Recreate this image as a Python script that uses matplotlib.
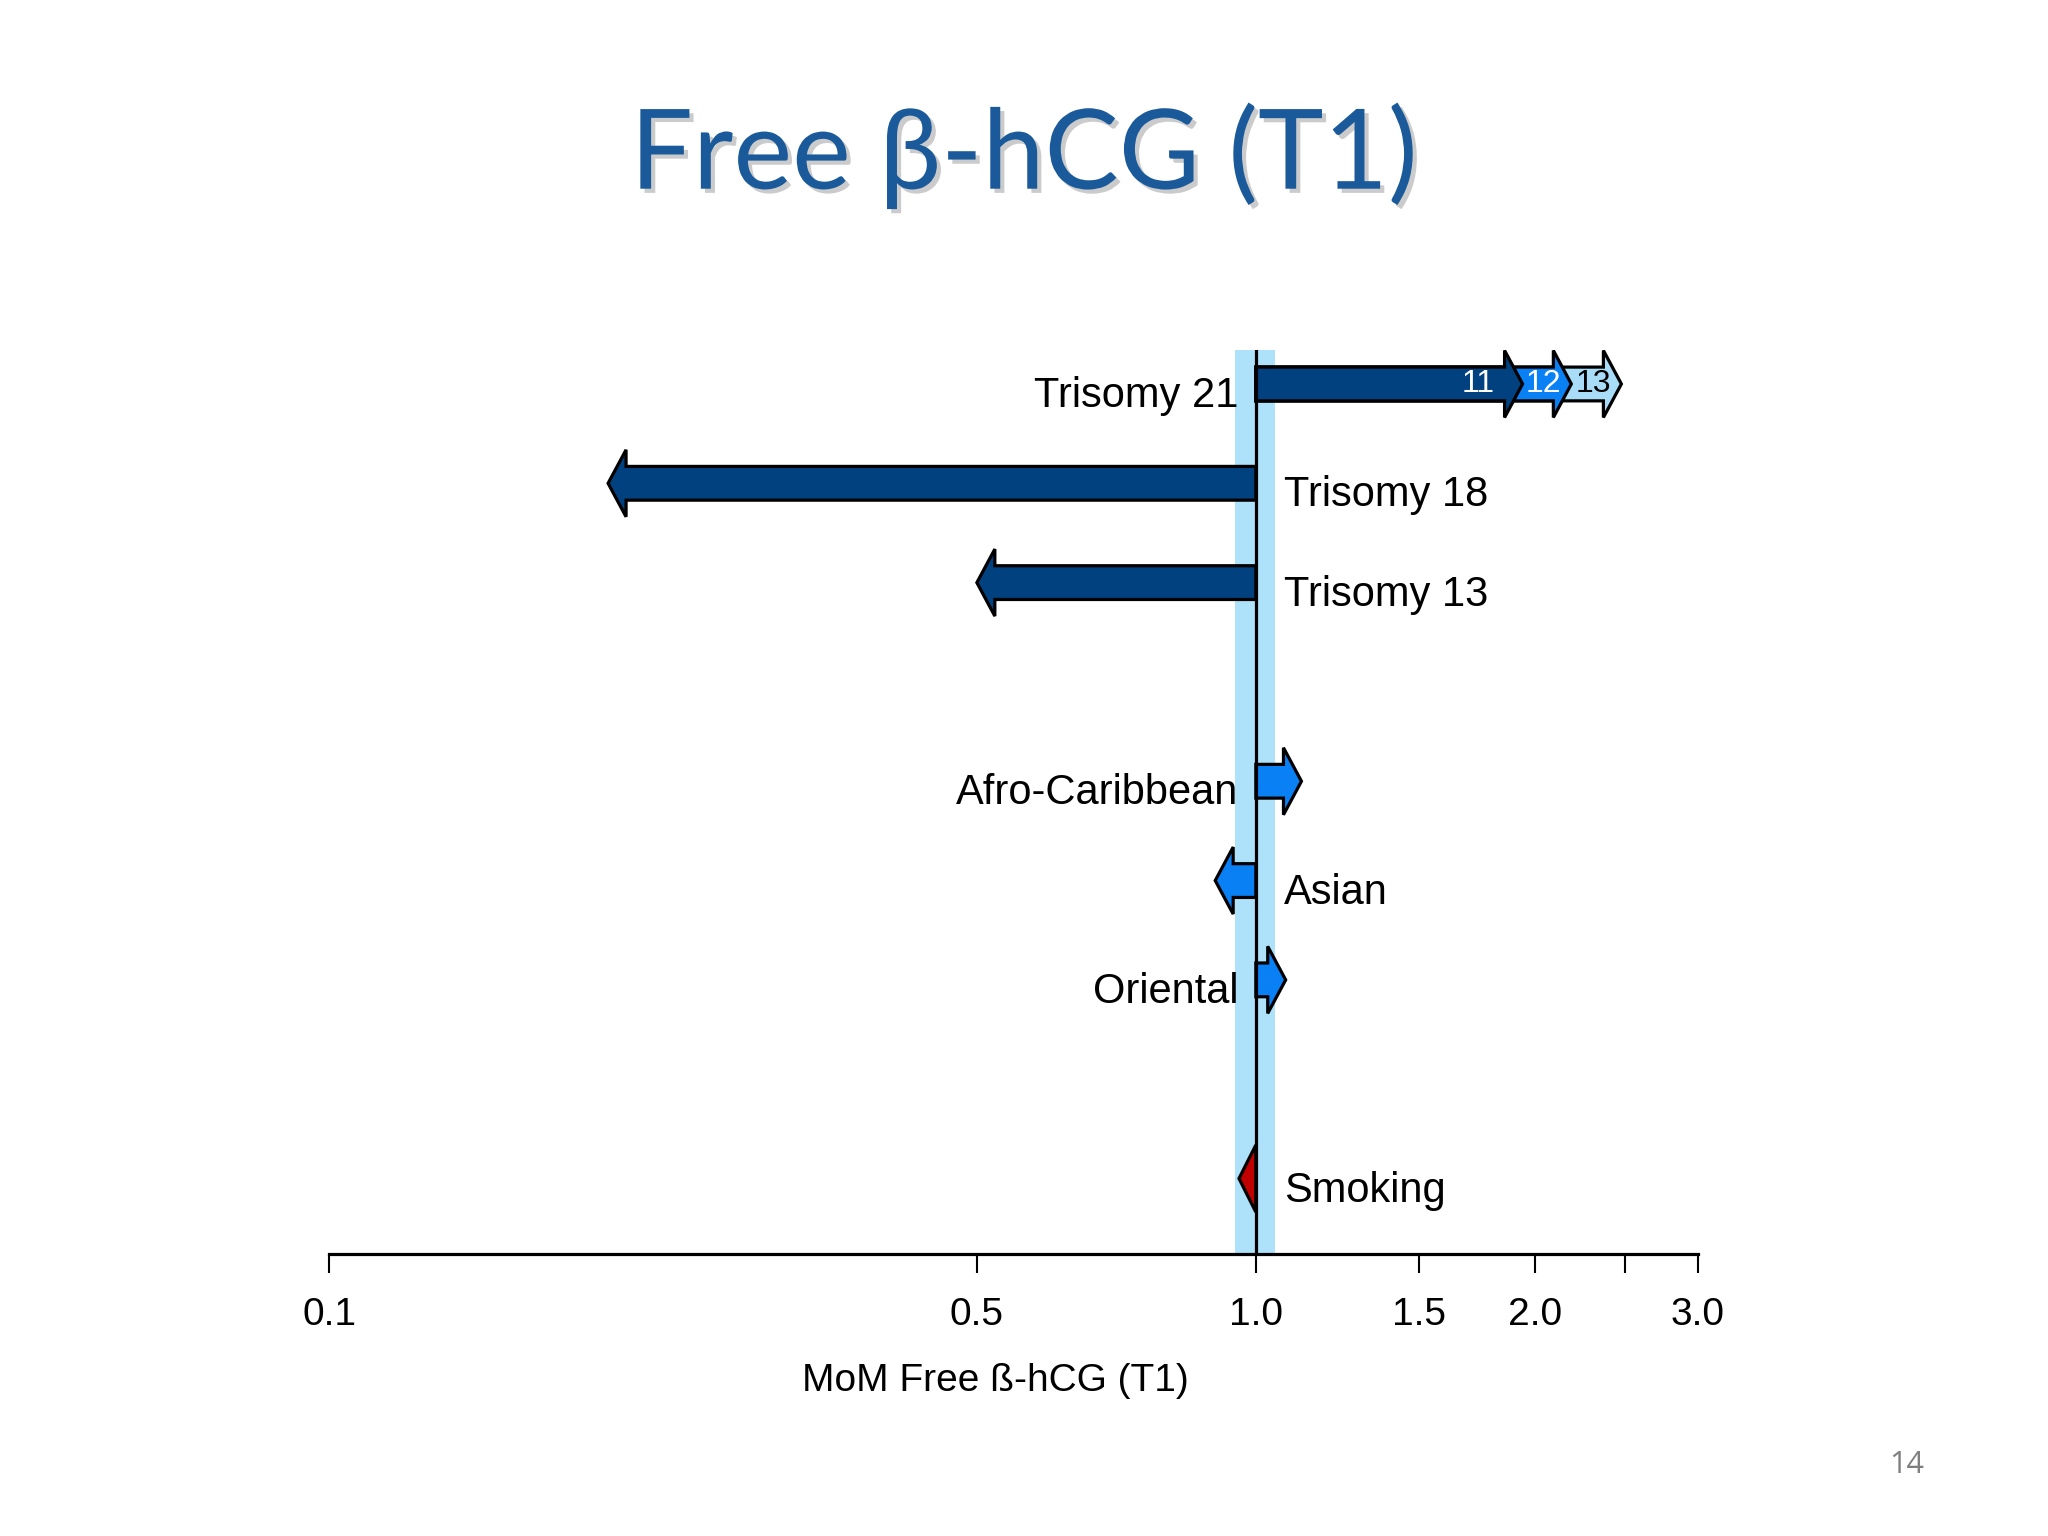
import numpy as np
import matplotlib
matplotlib.use("Agg")
import matplotlib.pyplot as plt
from matplotlib.patches import Polygon
import matplotlib.patheffects as pe

# ---------------- data ----------------
categories = ["Trisomy 21", "Trisomy 18", "Trisomy 13",
              "Afro-Caribbean", "Asian", "Oriental", "Smoking"]
rows = [0, 1, 2, 4, 5, 6, 8]
values = [1.94, 0.20, 0.50, 1.12, 0.904, 1.077, 0.959]
label_side = ["left", "right", "right", "left", "right", "left", "right"]
arrow_colors = ["#02417F", "#02417F", "#02417F", "#0A80F5", "#0A80F5", "#0A80F5", "#C00000"]

# Trisomy 21 by gestational week
t21_weeks = ["13", "12", "11"]
t21_values = [2.48, 2.19, 1.94]
t21_colors = ["#A9DDF7", "#0A80F5", "#02417F"]
t21_text_colors = ["black", "white", "white"]

xticks = [0.1, 0.5, 1.0, 1.5, 2.0, 2.5, 3.0]
xticklabels = ["0.1", "0.5", "1.0", "1.5", "2.0", "", "3.0"]
band = (0.95, 1.05)

title = "Free β-hCG (T1)"
xlabel = "MoM Free ß-hCG (T1)"
page = "14"

# ---------------- figure ----------------
fig = plt.figure(figsize=(20.48, 15.36), dpi=100)
fig.patch.set_facecolor("white")
ax = fig.add_axes([0.1607, 0.1836, 0.6684, 0.5884])
ax.set_xscale("log")
ax.set_xlim(0.1, 3.0)
ax.set_ylim(8.76, -0.34)

HEAD_DEC = 0.0194   # head length in decades
BODY_H = 0.34
HEAD_H = 0.675


def draw_arrow(y, val, color, z):
    lv = np.log10(val)
    s = 1 if lv > 0 else -1
    bh, hh = BODY_H / 2, HEAD_H / 2
    if abs(lv) <= HEAD_DEC:
        verts = [(1.0, y - hh), (val, y), (1.0, y + hh)]
    else:
        hb = 10 ** (lv - s * HEAD_DEC)
        verts = [(1.0, y - bh), (hb, y - bh), (hb, y - hh), (val, y),
                 (hb, y + hh), (hb, y + bh), (1.0, y + bh)]
    p = Polygon(verts, closed=True, facecolor=color, edgecolor="black",
                linewidth=2.3, joinstyle="miter", zorder=z)
    ax.add_patch(p)


ax.axvspan(band[0], band[1], color="#AEE1FA", zorder=0, lw=0)

# Trisomy 21 stacked arrows
for i, (wk, v, c, tc) in enumerate(zip(t21_weeks, t21_values, t21_colors, t21_text_colors)):
    draw_arrow(rows[0], v, c, 3 + i)
    off = -28 if wk == "11" else -10
    ax.annotate(wk, xy=(v, rows[0]), xytext=(off, 0), textcoords="offset pixels",
                ha="right", va="center", fontsize=23, color=tc,
                family="Liberation Sans", zorder=10)

for cat, r, v, side, c in zip(categories, rows, values, label_side, arrow_colors):
    if cat != "Trisomy 21":
        draw_arrow(r, v, c, 3)
    if side == "left":
        ax.annotate(cat, xy=(0.958, r), xytext=(0, -12), textcoords="offset pixels",
                    ha="right", va="center", fontsize=30, family="Liberation Sans")
    else:
        ax.annotate(cat, xy=(1.072, r), xytext=(0, -12), textcoords="offset pixels",
                    ha="left", va="center", fontsize=30, family="Liberation Sans")

ax.axvline(1.0, color="black", lw=2.3, zorder=8)

for sp in ["left", "right", "top"]:
    ax.spines[sp].set_visible(False)
ax.spines["bottom"].set_linewidth(2.3)
ax.spines["bottom"].set_zorder(9)
ax.set_yticks([])
ax.set_xticks(xticks)
ax.set_xticklabels(xticklabels)
ax.xaxis.set_minor_locator(matplotlib.ticker.NullLocator())
ax.tick_params(axis="x", direction="out", length=14, width=1.5, pad=17,
               labelsize=28)
for t in ax.get_xticklabels():
    t.set_family("Liberation Sans")
ax.set_facecolor("none")

fig.text(0.486, 1 - 1381 / 1536, xlabel, ha="center", va="center",
         fontsize=28, family="Liberation Sans")

fig.text(0.5, 1 - 156 / 1536, title, ha="center", va="center",
         fontsize=80, family="Lato", color="#1A5A9A",
         path_effects=[pe.withSimplePatchShadow(offset=(3, -3), shadow_rgbFace="#999999", alpha=0.5)])

fig.text(1907 / 2048, 1 - 1465 / 1536, page, ha="center", va="center",
         fontsize=22, color="#7F7F7F", family="Open Sans")

fig.savefig("out.png", dpi=100)
